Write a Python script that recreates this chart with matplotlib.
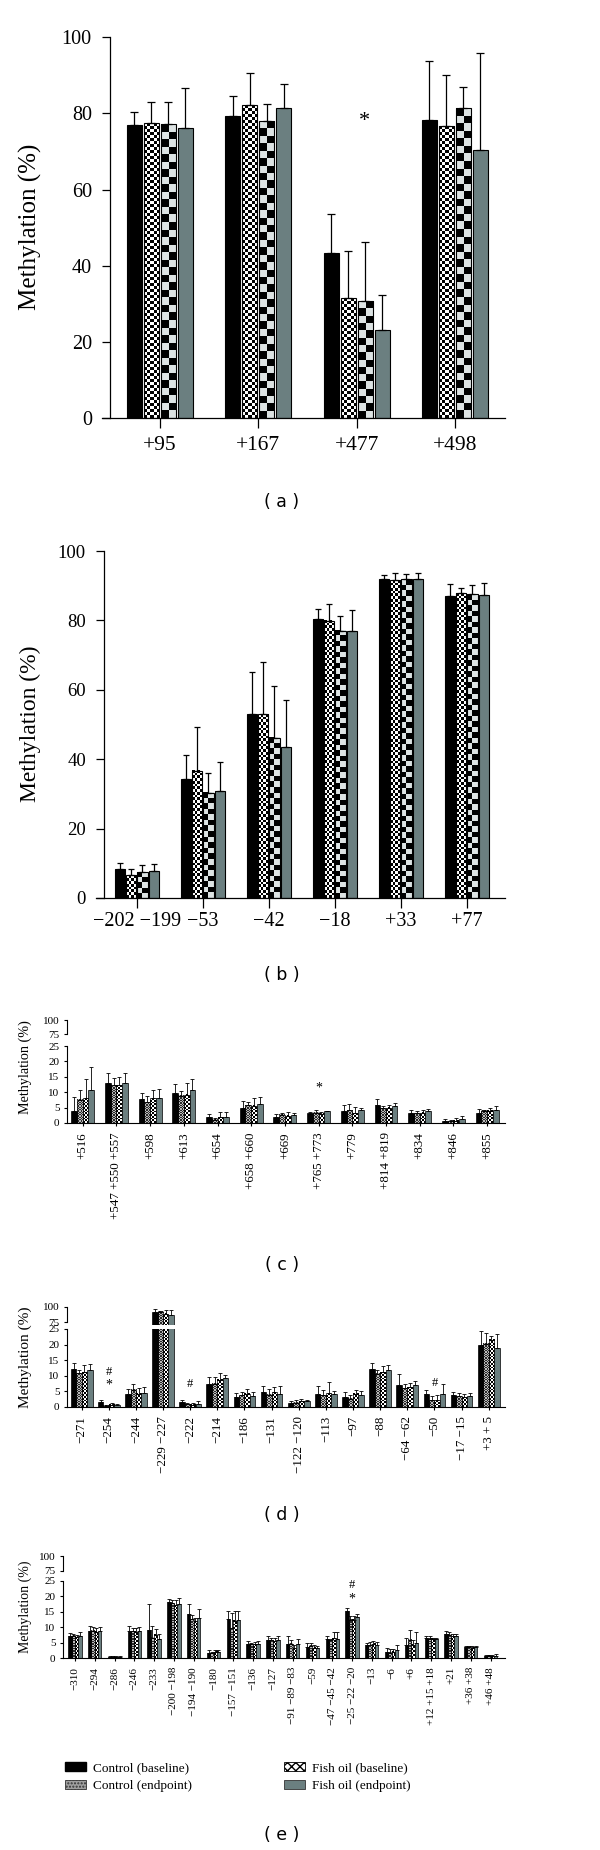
import numpy as np
import matplotlib
matplotlib.use('Agg')
import matplotlib.pyplot as plt
from matplotlib.colors import ListedColormap
from matplotlib.patches import Patch

plt.rcParams['font.family'] = ['Liberation Serif', 'DejaVu Serif']
SANS = 'DejaVu Sans'

# ---- data ----
# (a)
a_sites = ['+95', '+167', '+477', '+498']
a_ctrl_base = [76.9, 79.2, 43.3, 78.3]
a_ctrl_end = [77.4, 82.2, 31.4, 76.7]
a_fish_base = [77.2, 78.0, 30.7, 81.3]
a_fish_end = [76.1, 81.3, 23.2, 70.5]
# upper ends of the error bars
a_ctrl_base_hi = [80.5, 84.6, 53.5, 93.9]
a_ctrl_end_hi = [83.0, 90.7, 43.8, 90.0]
a_fish_base_hi = [83.0, 82.4, 46.1, 86.9]
a_fish_end_hi = [86.6, 87.7, 32.2, 95.9]
a_marks = [(2, 78, '*')]

# (b)
b_sites = ['\u2212202 \u2212199', '\u221253', '\u221242', '\u221218', '+33', '+77']
b_ctrl_base = [8.4, 34.4, 53.0, 80.4, 92.0, 87.0]
b_ctrl_end = [6.5, 36.6, 52.9, 79.9, 91.6, 87.8]
b_fish_base = [7.4, 30.4, 46.2, 77.0, 91.8, 87.5]
b_fish_end = [7.7, 30.7, 43.6, 76.9, 91.8, 87.3]
b_ctrl_base_hi = [10.1, 41.2, 65.2, 83.3, 93.1, 90.4]
b_ctrl_end_hi = [8.4, 49.3, 67.9, 84.8, 93.8, 89.2]
b_fish_base_hi = [9.4, 36.0, 61.2, 81.3, 93.3, 90.2]
b_fish_end_hi = [9.9, 39.1, 57.2, 83.0, 93.6, 90.7]

# (c)
c_sites = ['+516', '+547 +550 +557', '+598', '+613', '+654', '+658 +660', '+669',
           '+765 +773', '+779', '+814 +819', '+834', '+846', '+855']
c_ctrl_base = [3.8, 12.9, 7.8, 9.7, 1.8, 4.9, 2.1, 3.1, 4.0, 5.9, 3.4, 0.75, 3.4]
c_ctrl_end = [7.5, 12.2, 6.8, 8.9, 1.0, 5.7, 2.6, 3.3, 4.1, 4.8, 3.1, 0.5, 3.9]
c_fish_base = [8.0, 12.2, 8.0, 9.1, 1.9, 5.6, 2.4, 3.0, 3.2, 4.9, 3.3, 0.65, 4.0]
c_fish_end = [10.8, 12.9, 8.1, 10.8, 1.9, 6.1, 2.5, 3.8, 4.1, 5.5, 3.8, 1.3, 4.2]
c_ctrl_base_hi = [8.4, 16.1, 9.7, 12.6, 2.8, 7.3, 3.0, 3.7, 5.8, 7.7, 4.1, 1.4, 4.5]
c_ctrl_end_hi = [10.8, 14.6, 8.8, 10.5, 1.5, 6.8, 3.2, 4.1, 6.1, 5.6, 4.0, 1.1, 4.3]
c_fish_base_hi = [14.2, 15.0, 10.8, 12.9, 3.5, 8.0, 3.5, 3.7, 5.1, 5.8, 4.3, 1.7, 4.9]
c_fish_end_hi = [18.3, 16.1, 11.0, 14.2, 3.5, 8.5, 3.4, 4.0, 4.8, 6.5, 4.4, 2.2, 5.4]
c_marks = [(7, 11.5, '*')]

# (d)
d_sites = ['\u2212271', '\u2212254', '\u2212244', '\u2212229 \u2212227', '\u2212222', '\u2212214',
           '\u2212186', '\u2212131', '\u2212122 \u2212120', '\u2212113', '\u221297', '\u221288',
           '\u221264 \u221262', '\u221250', '\u221217 \u221215', '+3 + 5']
d_ctrl_base = [12.1, 1.65, 4.1, 92, 1.5, 7.5, 3.3, 4.7, 1.2, 4.2, 3.1, 12.1, 7.1, 4.1, 3.7, 20.0]
d_ctrl_end = [10.8, 0.4, 5.6, 92, 0.9, 7.5, 3.7, 4.0, 1.4, 3.7, 2.6, 10.7, 6.0, 2.2, 3.5, 20.2]
d_fish_base = [11.2, 0.8, 4.2, 89, 0.8, 8.8, 4.2, 4.8, 1.9, 4.4, 4.3, 11.2, 6.4, 2.2, 3.1, 21.6]
d_fish_end = [11.8, 0.55, 4.5, 86, 1.1, 9.3, 3.5, 4.3, 1.8, 4.3, 3.7, 11.8, 7.1, 4.1, 3.6, 19.0]
d_ctrl_base_hi = [14.1, 2.4, 5.8, 96, 2.4, 9.6, 4.6, 6.6, 1.8, 6.6, 4.8, 14.1, 10.7, 5.3, 4.7, 24.5]
d_ctrl_end_hi = [11.8, 0.6, 7.5, 94, 1.3, 9.7, 4.7, 5.8, 2.2, 5.3, 4.0, 11.8, 7.4, 3.5, 4.4, 23.6]
d_fish_base_hi = [13.4, 1.3, 6.2, 95, 1.3, 10.8, 5.8, 6.3, 2.7, 7.9, 5.5, 13.3, 7.6, 3.8, 4.1, 22.7]
d_fish_end_hi = [13.7, 1.0, 6.4, 95, 1.9, 10.4, 4.8, 6.8, 2.4, 5.2, 5.1, 13.5, 8.2, 7.3, 4.4, 23.4]
d_marks = [(1, 7.1, '*'), (1, 11.2, '#'), (4, 7.5, '#'), (13, 7.7, '#')]

# (e)
e_sites = ['\u2212310', '\u2212294', '\u2212286', '\u2212246', '\u2212233', '\u2212200 \u2212198',
           '\u2212194 \u2212190', '\u2212180', '\u2212157 \u2212151', '\u2212136', '\u2212127',
           '\u221291 \u221289 \u221283', '\u221259', '\u221247 \u221245 \u221242',
           '\u221225 \u221222 \u221220', '\u221213', '\u22126', '+6', '+12 +15 +18', '+21',
           '+36 +38', '+46 +48']
e_ctrl_base = [7.3, 8.9, 0.3, 8.9, 9.1, 18.2, 14.2, 1.7, 12.6, 4.7, 5.9, 4.7, 3.6, 6.2, 15.3, 4.2, 2.1, 4.2, 6.4, 7.7, 3.6, 0.65]
e_ctrl_end = [7.2, 8.8, 0.4, 8.7, 6.6, 17.8, 12.6, 1.5, 9.7, 4.5, 5.7, 4.6, 3.9, 5.7, 12.4, 4.2, 1.7, 5.9, 6.3, 7.5, 3.7, 0.65]
e_fish_base = [6.7, 8.5, 0.3, 8.5, 7.5, 17.1, 12.0, 2.1, 12.1, 4.5, 5.4, 3.2, 3.3, 6.4, 12.4, 4.6, 2.0, 4.3, 6.2, 7.0, 3.4, 0.55]
e_fish_end = [7.0, 8.8, 0.4, 8.8, 6.2, 17.5, 12.9, 2.0, 12.4, 4.7, 5.7, 4.6, 3.2, 6.2, 13.2, 4.2, 2.6, 4.9, 6.1, 7.3, 3.6, 0.75]
e_ctrl_base_hi = [8.0, 10.4, 0.5, 10.4, 17.5, 19.1, 17.5, 2.5, 15.4, 5.5, 7.3, 7.3, 5.0, 7.0, 16.2, 5.0, 3.2, 6.4, 7.3, 8.8, 4.0, 1.0]
e_ctrl_end_hi = [7.7, 10.0, 0.65, 9.9, 10.5, 18.7, 14.0, 2.1, 14.6, 5.0, 6.6, 5.9, 4.8, 6.2, 13.5, 5.2, 3.0, 9.1, 7.0, 8.3, 4.0, 1.0]
e_fish_base_hi = [7.5, 9.6, 0.65, 9.6, 9.3, 18.7, 12.9, 2.7, 15.1, 5.2, 6.4, 4.2, 4.2, 8.3, 13.5, 5.4, 2.8, 5.9, 6.6, 7.7, 3.8, 0.9]
e_fish_end_hi = [8.3, 10.0, 0.65, 10.0, 7.7, 19.5, 15.9, 2.7, 15.1, 5.5, 7.2, 6.1, 3.9, 8.6, 14.3, 5.1, 4.2, 8.3, 6.6, 7.7, 4.0, 1.2]
e_marks = [(14, 19.1, '*'), (14, 23.8, '#')]

legend_labels = ['Control (baseline)', 'Control (endpoint)', 'Fish oil (baseline)', 'Fish oil (endpoint)']
SLATE = '#6b7f80'

W, H = 600, 1850
fig = plt.figure(figsize=(W / 100, H / 100), dpi=100)


def px_axes(x0, y0, x1, y1):
    return fig.add_axes([x0 / W, 1 - y1 / H, (x1 - x0) / W, (y1 - y0) / H])


def checker(ax, bars, cell, c1, c2):
    # fill each bar with a checkerboard clipped to the bar (and the axes)
    cmap = ListedColormap([c1, c2])
    for b in bars:
        x0, w, h = b.get_x(), b.get_width(), b.get_height()
        (px0, py0), (px1, py1) = ax.transData.transform([(x0, 0), (x0 + w, h)])
        nx = max(1, int(round(abs(px1 - px0) / cell)))
        ny = max(1, int(round(abs(py1 - py0) / cell)))
        grid = np.add.outer(np.arange(ny), np.arange(nx)) % 2
        im = ax.imshow(grid, cmap=cmap, vmin=0, vmax=1, extent=(x0, x0 + w, 0, h),
                       origin='lower', aspect='auto', interpolation='nearest', zorder=1.5)
        im.set_clip_path(b)
        im.set_clip_box(ax.bbox)
        b.set_facecolor('none')


def grouped(ax, vals, his, styles, step, width, lw, cap, elw):
    x = np.arange(len(vals[0]))
    offs = (np.arange(4) - 1.5) * step
    for k in range(4):
        xs = x + offs[k]
        st = styles[k]
        bars = ax.bar(xs, vals[k], width, color=st[1] if st[0] == 'solid' else 'white',
                      edgecolor='black', linewidth=lw, zorder=2)
        if st[0] == 'check':
            checker(ax, bars, st[1], st[2], st[3])
        err = np.array(his[k]) - np.array(vals[k])
        ax.errorbar(xs, vals[k], yerr=[np.zeros_like(err), err], fmt='none', ecolor='black',
                    elinewidth=elw, capsize=cap, capthick=elw, zorder=3)


def caption(y, s):
    fig.text(282 / W, 1 - y / H, s, family=SANS, fontsize=12.5, ha='center', va='center')


# ---- panel (a) ----
ax = px_axes(102, 37.3, 505, 418)
ax.set_xlim(-0.59, 3.51)
ax.set_ylim(0, 100)
sty = [('solid', 'black'), ('check', 3.0, 'black', 'white'),
       ('check', 7.5, 'black', '#dde3e3'), ('solid', SLATE)]
grouped(ax, [a_ctrl_base, a_ctrl_end, a_fish_base, a_fish_end],
        [a_ctrl_base_hi, a_ctrl_end_hi, a_fish_base_hi, a_fish_end_hi],
        sty, 0.173, 0.153, 0.8, 3, 0.9)
ax.set_xlim(-0.59, 3.51)
ax.set_ylim(0, 100)
for s in ['top', 'right']:
    ax.spines[s].set_visible(False)
ax.spines['left'].set_position(('data', -0.51))
ax.spines['left'].set_linewidth(0.9)
ax.spines['bottom'].set_linewidth(0.9)
ax.set_yticks(range(0, 101, 20))
ax.set_xticks(range(4), a_sites)
ax.tick_params(axis='y', length=6, width=0.9, pad=7, labelsize=14.5)
ax.tick_params(axis='x', length=7, width=0.9, pad=6, labelsize=15.5)
for i, y, s in a_marks:
    ax.text(i + 0.08, y, s, ha='center', va='center', fontsize=16)
fig.text(30 / W, 1 - 227 / H, 'Methylation (%)', rotation=90, ha='center', va='center', fontsize=18)
caption(502, '( a )')

# ---- panel (b) ----
ax = px_axes(96, 551, 505, 898)
ax.set_xlim(-0.621, 5.576)
ax.set_ylim(0, 100)
sty = [('solid', 'black'), ('check', 2.7, 'black', 'white'),
       ('check', 5.5, 'black', '#dde3e3'), ('solid', SLATE)]
grouped(ax, [b_ctrl_base, b_ctrl_end, b_fish_base, b_fish_end],
        [b_ctrl_base_hi, b_ctrl_end_hi, b_fish_base_hi, b_fish_end_hi],
        sty, 0.167, 0.152, 0.8, 2.2, 0.9)
ax.set_xlim(-0.621, 5.576)
ax.set_ylim(0, 100)
for s in ['top', 'right']:
    ax.spines[s].set_visible(False)
ax.spines['left'].set_position(('data', -0.5))
ax.spines['left'].set_linewidth(0.9)
ax.spines['bottom'].set_linewidth(0.9)
ax.set_yticks(range(0, 101, 20))
ax.set_xticks(range(6), b_sites)
ax.tick_params(axis='y', length=6, width=0.9, pad=7, labelsize=13.5)
ax.tick_params(axis='x', length=7, width=0.9, pad=3, labelsize=14.5)
fig.text(30 / W, 1 - 724 / H, 'Methylation (%)', rotation=90, ha='center', va='center', fontsize=17)
caption(975, '( b )')

# ---- broken-axis panels (c), (d), (e) ----
sty_small = [('solid', 'black'), ('check', 1.2, '#2b2b2b', '#b8b8b8'),
             ('check', 1.8, 'black', 'white'), ('solid', SLATE)]


def broken(x0, up, low, xlim, sites, vals, his, step, marks, xfs, yl_y, yl_fs, cap):
    ax_up = px_axes(x0, up[0], 505, up[1])
    ax_lo = px_axes(x0, low[0], 505, low[1])
    for a, yl in [(ax_up, (70, 100)), (ax_lo, (0, 25))]:
        a.set_xlim(*xlim)
        a.set_ylim(*yl)
        grouped(a, vals, his, sty_small, step, step, 0.5, cap, 0.6)
        a.set_xlim(*xlim)
        a.set_ylim(*yl)
        a.spines['top'].set_visible(False)
        a.spines['right'].set_visible(False)
        a.spines['left'].set_linewidth(0.8)
        a.tick_params(axis='y', length=2.5, width=0.8, pad=3, labelsize=8)
    ax_up.spines['bottom'].set_visible(False)
    ax_up.spines['left'].set_bounds(75, 100)
    ax_up.set_xticks([])
    ax_up.set_yticks([75, 100])
    ax_lo.spines['bottom'].set_linewidth(0.8)
    ax_lo.set_yticks(range(0, 26, 5))
    ax_lo.set_xticks(range(len(sites)))
    ax_lo.set_xticklabels(sites, rotation=90, va='top', ha='center')
    ax_lo.tick_params(axis='x', length=2.5, width=0.8, pad=4, labelsize=xfs)
    for i, y, s in marks:
        ax_lo.text(i, y, s, ha='center', va='center', fontsize=10 if s == '*' else 9)
    fig.text(25 / W, 1 - yl_y / H, 'Methylation (%)', rotation=90, ha='center', va='center',
             fontsize=yl_fs)


broken(67, (1020, 1036.8), (1046, 1123), (-0.466, 12.53), c_sites,
       [c_ctrl_base, c_ctrl_end, c_fish_base, c_fish_end],
       [c_ctrl_base_hi, c_ctrl_end_hi, c_fish_base_hi, c_fish_end_hi],
       0.17, c_marks, 9.4, 1067, 10.2, 1.4)
caption(1265, '( c )')

broken(67, (1307, 1325), (1329, 1407), (-0.54, 15.6), d_sites,
       [d_ctrl_base, d_ctrl_end, d_fish_base, d_fish_end],
       [d_ctrl_base_hi, d_ctrl_end_hi, d_fish_base_hi, d_fish_end_hi],
       0.2, d_marks, 9.4, 1357, 11, 1.4)
caption(1515, '( d )')

broken(63, (1556, 1574), (1581, 1658), (-0.606, 21.73), e_sites,
       [e_ctrl_base, e_ctrl_end, e_fish_base, e_fish_end],
       [e_ctrl_base_hi, e_ctrl_end_hi, e_fish_base_hi, e_fish_end_hi],
       0.168, e_marks, 8, 1607, 10, 1.1)

# legend
handles = [Patch(facecolor='black', edgecolor='black'),
           Patch(facecolor='#a0a0a0', edgecolor='#333333', hatch='.....', linewidth=0.6),
           Patch(facecolor='white', edgecolor='black', hatch='xxxx', linewidth=0.6),
           Patch(facecolor=SLATE, edgecolor='#333333', linewidth=0.6)]
for j, xl in enumerate([65, 284]):
    fig.legend(handles[2 * j:2 * j + 2], legend_labels[2 * j:2 * j + 2], loc='upper left',
               bbox_to_anchor=(xl / W, 1 - 1762 / H), frameon=False, fontsize=9.5,
               handlelength=1.6, handleheight=0.7, handletextpad=0.55, labelspacing=0.45,
               borderpad=0, borderaxespad=0)
caption(1835, '( e )')

fig.savefig('out.png', dpi=100)
